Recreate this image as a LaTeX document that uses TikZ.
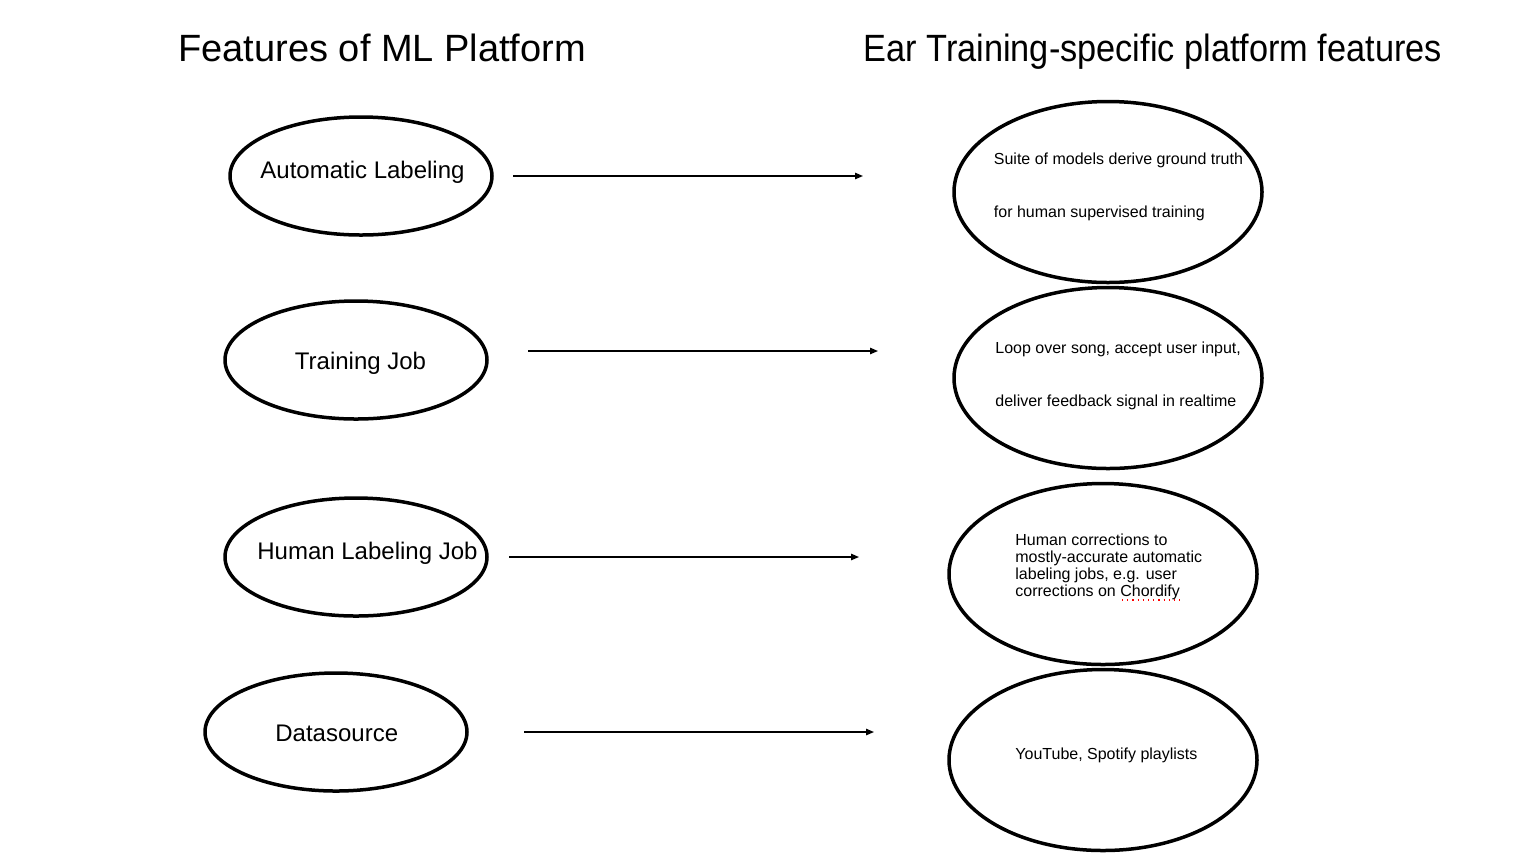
\documentclass[tikz,border=0pt]{standalone}
\usepackage{fontspec}
\setmainfont{Liberation Sans}
\usetikzlibrary{arrows.meta, positioning, shapes.geometric}

\begin{document}
\begin{tikzpicture}[
	x=0.5pt, y=-0.5pt,
	oval/.style    = {ellipse, draw, line width=1.75pt, inner sep=0pt,
	                  minimum width=131pt, minimum height=59pt},
	bigoval/.style = {oval, minimum width=154pt, minimum height=90.5pt},
	txt/.style     = {anchor=base west, inner sep=0pt, font=\fontsize{12}{14}\selectfont},
	head/.style    = {txt, font=\fontsize{19}{22}\selectfont},
	note/.style    = {txt, align=left, font=\fontsize{8}{8.6}\selectfont},
	wide/.style    = {note, font=\fontsize{8}{26.5}\selectfont},
	feed/.style    = {line width=0.75pt, -{Triangle[length=4pt, width=3.2pt]}}
	]
	\useasboundingbox (0,0) rectangle (1519,853);
%
	\node[head] (hleft)  at (178,61.7) {Features of ML Platform};
	\node[head] (hright) at (863,61.7) {\scalebox{0.903}[1]{Ear Training-specific platform features}};
%
	\node[oval] (auto)  at (361,176) {};
	\node[oval] (train) at (356,360) {};
	\node[oval] (human) at (356,557) {};
	\node[oval] (data)  at (336,732) {};
	\node[txt] (autot)  at (260,178)   {Automatic Labeling};
	\node[txt] (traint) at (294.5,369.7) {Training Job};
	\node[txt] (humant) at (257,559.7) {Human Labeling Job};
	\node[txt] (datat)  at (275,741.3) {Datasource};
%
	\node[bigoval] (suite) at (1108,192) {};
	\node[bigoval] (loop)  at (1108,378) {};
	\node[bigoval] (fix)   at (1103,574) {};
	\node[bigoval] (src)   at (1103,760) {};
	\node[wide] (suitet) at (993.5,217) {Suite of models derive ground truth\\for human supervised training};
	\node[wide] (loopt)  at (995,406.7) {Loop over song, accept user input,\\deliver feedback signal in realtime};
	\node[note] (fixt)   at (1015,596.7) {Human corrections to\\mostly-accurate automatic\\labeling jobs, e.g. user\\corrections on Chordify};
	\node[note] (srct)   at (1015,759.3) {YouTube, Spotify playlists};
	\draw[red, dotted, line width=0.6pt] (1122,600) -- (1180,600);
%
	\coordinate (a1) at (513,176); \coordinate (b1) at (863,176);
	\coordinate (a2) at (528,351); \coordinate (b2) at (878,351);
	\coordinate (a3) at (509,557); \coordinate (b3) at (859,557);
	\coordinate (a4) at (524,732); \coordinate (b4) at (874,732);
	\draw[feed] (a1) -- (b1);
	\draw[feed] (a2) -- (b2);
	\draw[feed] (a3) -- (b3);
	\draw[feed] (a4) -- (b4);
\end{tikzpicture}
\end{document}
